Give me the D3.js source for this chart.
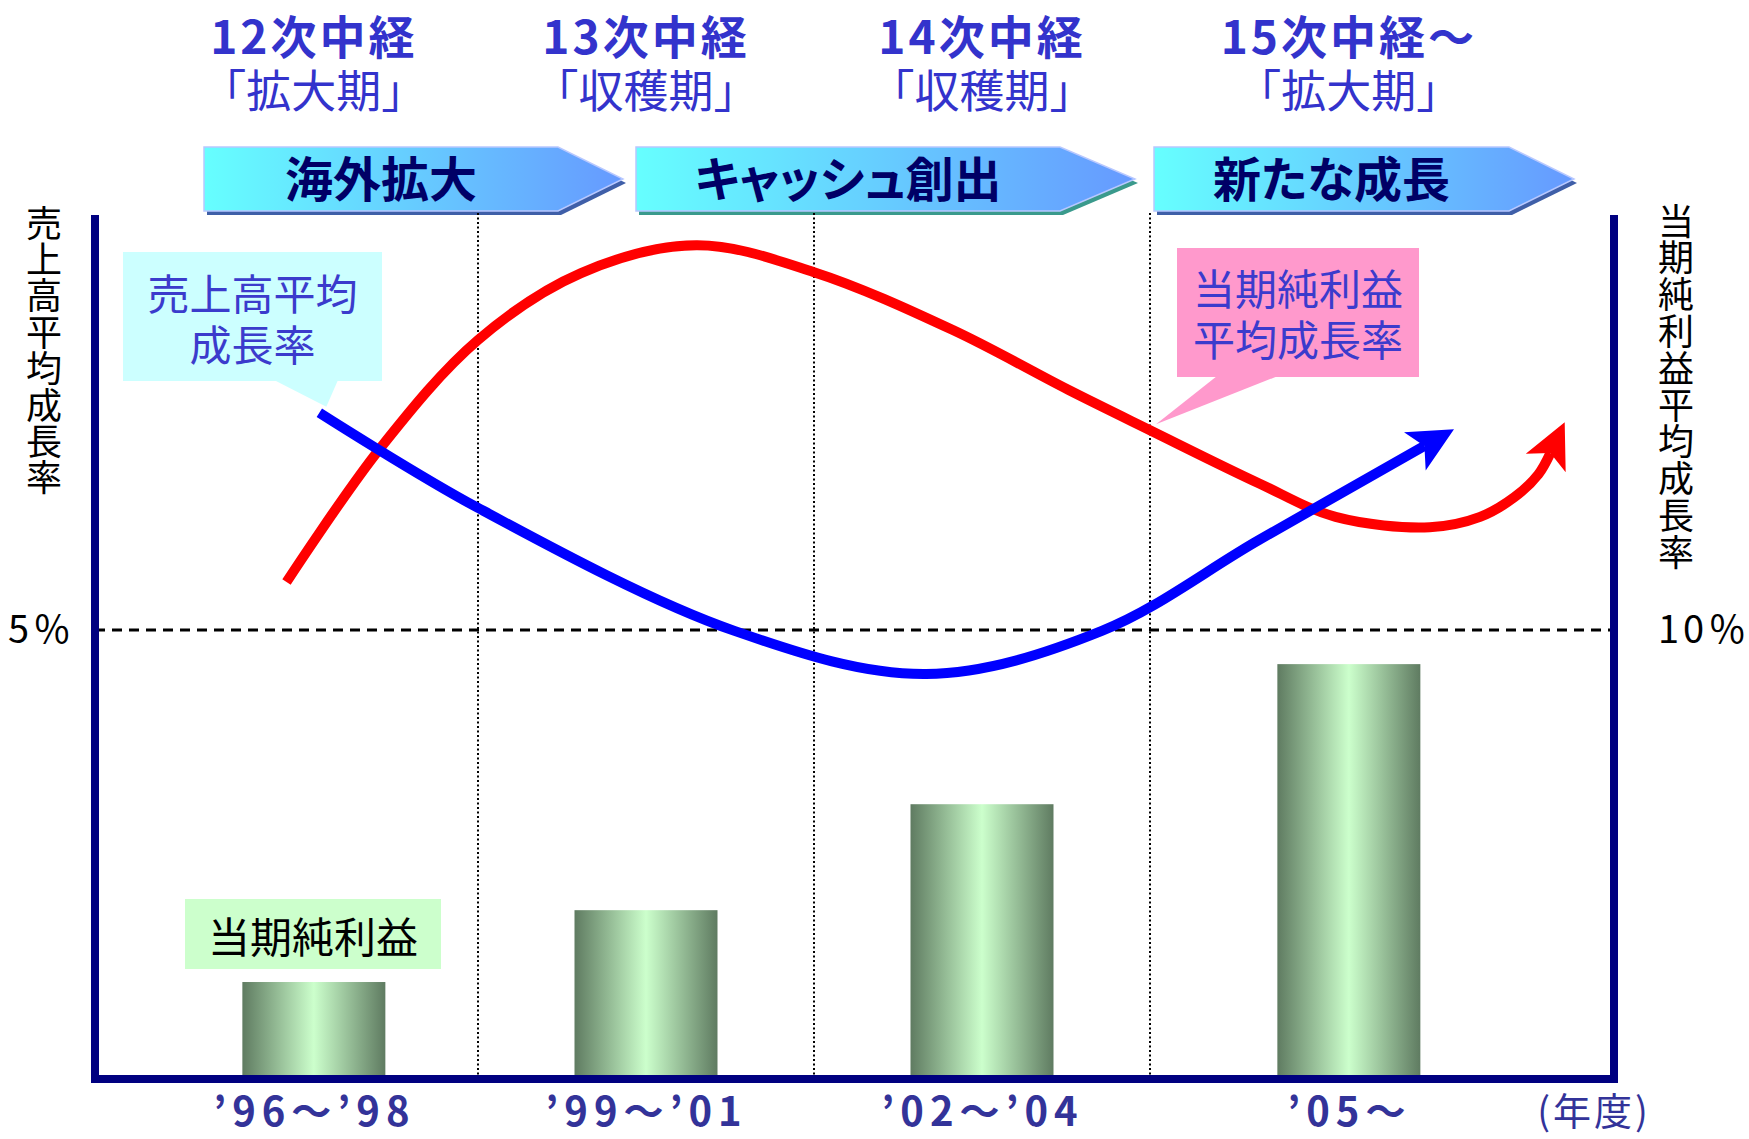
<!DOCTYPE html>
<html>
<head>
<meta charset="utf-8">
<script src="https://cdn.jsdelivr.net/npm/d3@7"></script>
<style>
  body { margin: 0; background: #fff; }
  svg { display: block; font-family: "Noto Sans CJK JP", "Noto Sans", sans-serif; }
</style>
</head>
<body>
<div class="container"></div>
<script>
// ---- data ----
const periods = ['’96～’98', '’99～’01', '’02～’04', '’05～'];
const periodMidYear = [97, 100, 103, 106];
const planNames = ['12次中経', '13次中経', '14次中経', '15次中経～'];
const planPhases = ['｢拡大期｣', '｢収穫期｣', '｢収穫期｣', '｢拡大期｣'];
const themes = ['海外拡大', 'キャッシュ創出', '新たな成長'];
const dividerYears = [98.5, 101.5, 104.5];

// 当期純利益 (index, no scale shown on the slide)
const netIncomeIndex = [21.6, 37.6, 61.2, 92.4];

// 売上高平均成長率 (left axis, %)
const salesYears  = [97.05, 98.5, 100.79, 102.5, 104.07, 105.32, 106.57];
const salesGrowth = [7.42, 6.36, 4.99, 4.51, 4.99, 6.00, 7.05];

// 当期純利益平均成長率 (right axis, %)
const profitYears  = [96.75, 97.6, 98.5, 99.42, 100.45, 101.5, 102.74, 103.77, 104.5, 105.32, 105.9, 106.61, 106.99, 107.25, 107.43, 107.52];
const profitGrowth = [11.07, 14.03, 16.46, 17.95, 18.57, 17.97, 16.68, 15.35, 14.45, 13.27, 12.52, 12.29, 12.52, 12.96, 13.47, 13.94];

const leftTicks = [5];
const rightTicks = [10];

// ---- layout ----
const config = {w: 1749, h: 1139, barW: 143, axisColor: '#000080', textBlue: '#3333cc', labelBlue: '#333399'};
const plot = {left: 95, right: 1614, top: 215, bottom: 1079};
const banner = {top: 147, bottom: 211, boxes: [[204, 558, 623], [636, 1060, 1135], [1154, 1509, 1574]],
  shade: ['#3f5fa8', '#3a9a8c', '#3f5fa8']};

const svg = d3.select('.container').append('svg')
  .attr('width', config.w)
  .attr('height', config.h)
  .attr('viewBox', '0 0 ' + config.w + ' ' + config.h);

const x = d3.scaleLinear()
  .domain([95, 98.5, 101.5, 104.5, 108])
  .range([plot.left, 478, 814, 1150, plot.right]);
const yL = d3.scaleLinear().domain([0, 5]).range([plot.bottom, 630]);
const yR = d3.scaleLinear().domain([0, 10]).range([plot.bottom, 630]);
const yBar = d3.scaleLinear().domain([0, 100]).range([plot.bottom, 630]);

// ---- defs ----
const defs = svg.append('defs');

const barGrad = defs.append('linearGradient').attr('id', 'barGrad')
  .attr('x1', 0).attr('x2', 1).attr('y1', 0).attr('y2', 0);
barGrad.append('stop').attr('offset', 0).attr('stop-color', '#5f7b61');
barGrad.append('stop').attr('offset', 0.5).attr('stop-color', '#ccffcc');
barGrad.append('stop').attr('offset', 1).attr('stop-color', '#5f7b61');

const banGrad = defs.append('linearGradient').attr('id', 'banGrad')
  .attr('x1', 0).attr('x2', 1).attr('y1', 0).attr('y2', 0);
banGrad.append('stop').attr('offset', 0).attr('stop-color', '#66ffff');
banGrad.append('stop').attr('offset', 1).attr('stop-color', '#6699ff');

[['blue', '#0000ff'], ['red', '#ff0000']].forEach(([name, col]) => {
  defs.append('marker')
    .attr('id', 'head-' + name)
    .attr('viewBox', '-50 -25 55 50')
    .attr('refX', -34).attr('refY', 0)
    .attr('markerWidth', 55).attr('markerHeight', 50)
    .attr('markerUnits', 'userSpaceOnUse')
    .attr('orient', 'auto')
    .append('path')
      .attr('d', 'M0,0L-45,-22L-34,0L-45,22Z')
      .attr('fill', col);
});

// ---- period headers ----
const heads = svg.append('g').attr('fill', config.textBlue).attr('text-anchor', 'middle');
heads.selectAll('text.plan')
  .data(planNames)
  .enter().append('text')
    .attr('class', 'plan')
    .attr('x', (d, i) => x(periodMidYear[i]))
    .attr('y', 54)
    .attr('font-size', 46)
    .attr('font-weight', 'bold')
    .attr('letter-spacing', 3)
    .text(d => d);
heads.selectAll('text.phase')
  .data(planPhases)
  .enter().append('text')
    .attr('class', 'phase')
    .attr('x', (d, i) => x(periodMidYear[i]))
    .attr('y', 108)
    .attr('font-size', 45)
    .text(d => d);

// ---- theme banners ----
const bans = svg.append('g').selectAll('g')
  .data(themes)
  .enter().append('g');
const banPts = (b, dx, dy) => {
  const ym = (banner.top + banner.bottom) / 2;
  return [[b[0], banner.top], [b[1], banner.top], [b[2], ym], [b[1], banner.bottom], [b[0], banner.bottom]]
    .map(p => (p[0] + dx) + ',' + (p[1] + dy)).join(' ');
};
bans.append('polygon')
  .attr('points', (d, i) => banPts(banner.boxes[i], 3, 4))
  .attr('fill', (d, i) => banner.shade[i]);
bans.append('polygon')
  .attr('points', (d, i) => banPts(banner.boxes[i], 0, 0))
  .attr('fill', 'url(#banGrad)')
  .attr('stroke', '#b8c8ff')
  .attr('stroke-width', 1.5);
bans.append('text')
  .attr('x', (d, i) => (banner.boxes[i][0] + banner.boxes[i][1]) / 2)
  .attr('y', 197)
  .attr('text-anchor', 'middle')
  .attr('font-size', 48)
  .attr('font-weight', 'bold')
  .attr('fill', '#000066')
  .style('font-feature-settings', '"palt"')
  .text(d => d);

// ---- period dividers & reference line ----
svg.append('g').selectAll('line')
  .data(dividerYears)
  .enter().append('line')
    .attr('x1', d => x(d)).attr('x2', d => x(d))
    .attr('y1', banner.bottom + 2).attr('y2', plot.bottom)
    .attr('stroke', '#000')
    .attr('stroke-width', 2)
    .attr('stroke-dasharray', '2,2.5');

svg.append('line')
  .attr('x1', plot.left).attr('x2', plot.right)
  .attr('y1', yL(leftTicks[0])).attr('y2', yL(leftTicks[0]))
  .attr('stroke', '#000')
  .attr('stroke-width', 3)
  .attr('stroke-dasharray', '10,7');

// ---- net income bars ----
svg.append('g').selectAll('rect')
  .data(netIncomeIndex)
  .enter().append('rect')
    .attr('x', (d, i) => x(periodMidYear[i]) - config.barW / 2)
    .attr('y', d => yBar(d))
    .attr('width', config.barW)
    .attr('height', d => plot.bottom - yBar(d))
    .attr('fill', 'url(#barGrad)');

// ---- callouts ----
function callout(box, tail, fill, lines, color, lineY) {
  const g = svg.append('g');
  g.append('rect')
    .attr('x', box[0]).attr('y', box[1])
    .attr('width', box[2]).attr('height', box[3])
    .attr('fill', fill);
  if (tail) {
    g.append('polygon')
      .attr('points', tail.map(p => p.join(',')).join(' '))
      .attr('fill', fill);
  }
  g.selectAll('text')
    .data(lines)
    .enter().append('text')
      .attr('x', box[0] + box[2] / 2)
      .attr('y', (d, i) => lineY[i])
      .attr('text-anchor', 'middle')
      .attr('font-size', 42)
      .attr('fill', color)
      .text(d => d);
}

const salesTip = [x(salesYears[0]) + 7, yL(salesGrowth[0]) - 6];
callout([123, 252, 259, 129], [[274, 380], [338, 380], salesTip], '#ccffff',
  ['売上高平均', '成長率'], '#3b3bcc', [310, 361]);

const profitTip = [x(dividerYears[2]) + 6, yR(profitGrowth[8]) - 6];
callout([1177, 248, 242, 129], [[1217, 376], [1278, 376], profitTip], '#ff99cc',
  ['当期純利益', '平均成長率'], '#3b3bcc', [305, 356]);

callout([185, 899, 256, 70], null, '#ccffcc', ['当期純利益'], '#000', [953]);

// ---- growth curves ----
const lineL = d3.line()
  .x(d => x(d[0]))
  .y(d => yL(d[1]))
  .curve(d3.curveCatmullRom.alpha(0.5));
const lineR = d3.line()
  .x(d => x(d[0]))
  .y(d => yR(d[1]))
  .curve(d3.curveCatmullRom.alpha(0.5));

svg.append('path')
  .datum(d3.zip(profitYears, profitGrowth))
  .attr('d', lineR)
  .attr('fill', 'none')
  .attr('stroke', '#ff0000')
  .attr('stroke-width', 10)
  .attr('marker-end', 'url(#head-red)');

svg.append('path')
  .datum(d3.zip(salesYears, salesGrowth))
  .attr('d', lineL)
  .attr('fill', 'none')
  .attr('stroke', '#0000ff')
  .attr('stroke-width', 10)
  .attr('marker-end', 'url(#head-blue)');

// ---- axes ----
const axisFont = '"Liberation Sans Narrow", "Noto Sans CJK JP", sans-serif';

const gl = svg.append('g')
  .attr('transform', 'translate(' + plot.left + ',0)')
  .call(d3.axisLeft(yL).tickValues(leftTicks).tickSize(0).tickPadding(20).tickFormat(d => d + '％'));
const gr = svg.append('g')
  .attr('transform', 'translate(' + plot.right + ',0)')
  .call(d3.axisRight(yR).tickValues(rightTicks).tickSize(0).tickPadding(44).tickFormat(d => d + '％'));
[gl, gr].forEach(g => {
  g.select('.domain').remove();
  g.selectAll('text')
    .attr('font-size', 38)
    .attr('letter-spacing', 4)
    .attr('fill', '#000')
    .style('font-family', axisFont);
});

const gb = svg.append('g')
  .attr('transform', 'translate(0,' + plot.bottom + ')')
  .call(d3.axisBottom(x).tickValues(periodMidYear).tickSize(0).tickPadding(0)
    .tickFormat((d, i) => periods[i]));
gb.select('.domain').remove();
gb.selectAll('text')
  .attr('y', 47)
  .attr('dy', 0)
  .attr('font-size', 40)
  .attr('font-weight', 'bold')
  .attr('letter-spacing', 6)
  .attr('fill', config.labelBlue)
  .style('font-family', axisFont);

svg.append('text')
  .attr('x', 1594)
  .attr('y', 1125)
  .attr('text-anchor', 'middle')
  .attr('font-size', 38)
  .attr('letter-spacing', 3)
  .attr('fill', config.labelBlue)
  .text('(年度)');

// axis frame
svg.append('path')
  .attr('d', 'M' + plot.left + ',' + plot.top + 'V' + plot.bottom + 'H' + plot.right + 'V' + plot.top)
  .attr('stroke', config.axisColor)
  .attr('stroke-width', 8)
  .attr('fill', 'none');

// axis titles, written top-to-bottom
function vTitle(str, cx, top, spacing) {
  svg.append('text')
    .attr('x', cx)
    .attr('y', top)
    .attr('font-size', 36)
    .attr('letter-spacing', spacing)
    .attr('fill', '#000')
    .style('writing-mode', 'vertical-rl')
    .text(str);
}
vTitle('売上高平均成長率', 44, 205, 0.4);
vTitle('当期純利益平均成長率', 1676, 203, 0.8);
</script>
</body>
</html>
